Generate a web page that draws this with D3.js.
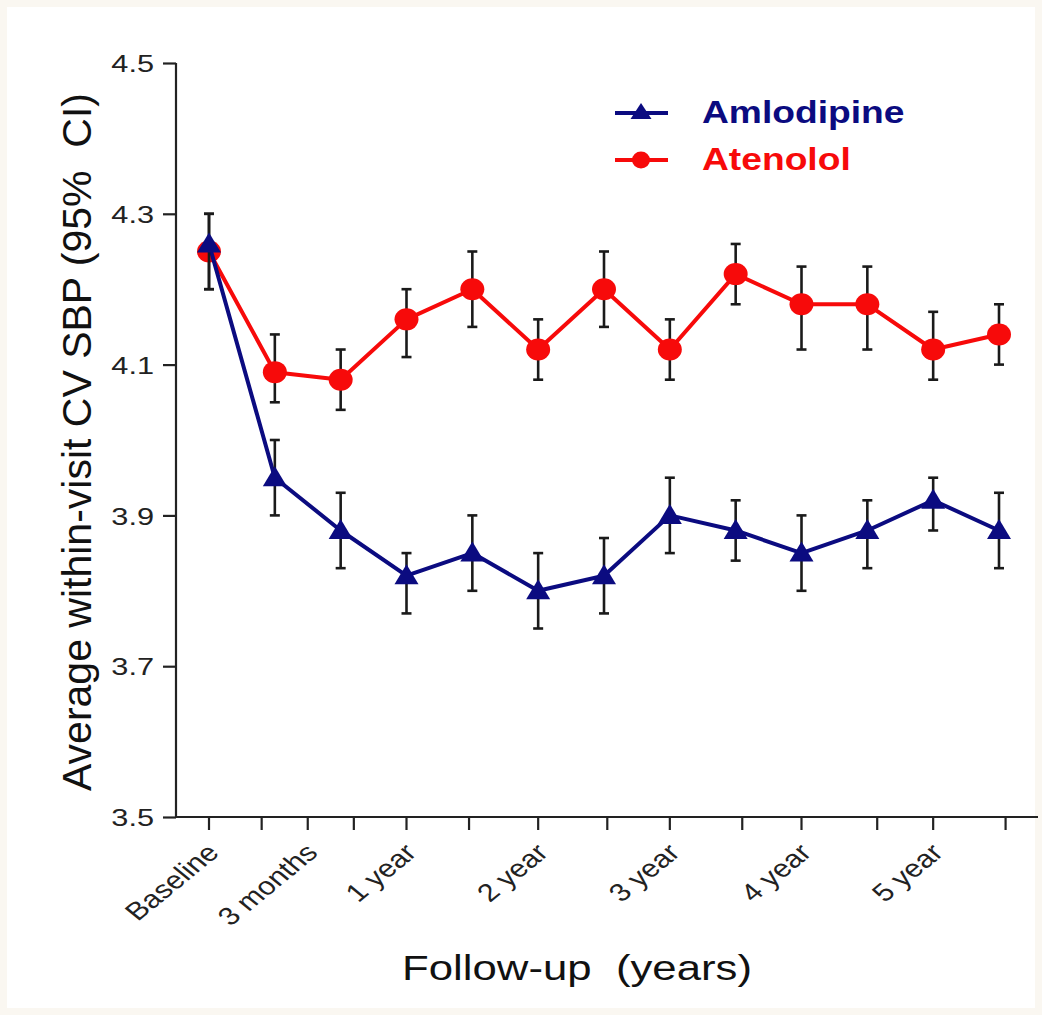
<!DOCTYPE html>
<html>
<head>
<meta charset="utf-8">
<script src="https://cdn.jsdelivr.net/npm/d3@7"></script>
<style>
  html, body { margin: 0; padding: 0; background: #ffffff; }
  svg { display: block; }
  text { font-family: Arial, "Liberation Sans", sans-serif; white-space: pre; }
</style>
</head>
<body>
<script>
// Follow-up visits (index positions along the x axis)
const visits = [0, 1, 2, 3, 4, 5, 6, 7, 8, 9, 10, 11, 12];

// Atenolol: mean and 95% CI
const atenolol     = [4.25, 4.09, 4.08, 4.16, 4.20, 4.12, 4.20, 4.12, 4.22, 4.18, 4.18, 4.12, 4.14];
const atenololLow  = [4.20, 4.05, 4.04, 4.11, 4.15, 4.08, 4.15, 4.08, 4.18, 4.12, 4.12, 4.08, 4.10];
const atenololHigh = [4.30, 4.14, 4.12, 4.20, 4.25, 4.16, 4.25, 4.16, 4.26, 4.23, 4.23, 4.17, 4.18];

// Amlodipine: mean and 95% CI
const amlodipine     = [4.26, 3.95, 3.88, 3.82, 3.85, 3.80, 3.82, 3.90, 3.88, 3.85, 3.88, 3.92, 3.88];
const amlodipineLow  = [4.20, 3.90, 3.83, 3.77, 3.80, 3.75, 3.77, 3.85, 3.84, 3.80, 3.83, 3.88, 3.83];
const amlodipineHigh = [4.30, 4.00, 3.93, 3.85, 3.90, 3.85, 3.87, 3.95, 3.92, 3.90, 3.92, 3.95, 3.93];

// Axis ticks
const yTicks = [3.5, 3.7, 3.9, 4.1, 4.3, 4.5];
const xTickMarks = [0, 0.8, 1.5, 2.2, 3, 3.95, 5, 6.05, 7, 8.1, 9, 10.15, 11, 12.1];
const xTickLabelPos = [0, 1.5, 3, 5, 7, 9, 11];
const xTickLabels = ["Baseline", "3 months", "1 year", "2 year", "3 year", "4 year", "5 year"];

const W = 1042, H = 1015;
const RED = "#f70a0a", NAVY = "#0b0b80";
const TEXT_STRETCH = 1.22;

const svg = d3.select("body").append("svg").attr("width", W).attr("height", H);

// faint cream frame round the white plot card
svg.append("rect").attr("width", W).attr("height", H).attr("fill", "#faf7f1");
svg.append("rect").attr("x", 7).attr("y", 7).attr("width", W - 14).attr("height", H - 14)
  .attr("fill", "#ffffff");

const x = d3.scaleLinear().domain([0, 12]).range([209, 999]);
const y = d3.scaleLinear().domain([3.5, 4.5]).range([817, 63]);
const x0 = 176, xEnd = 1038;

// y axis
const gy = svg.append("g").attr("transform", `translate(${x0},0)`)
  .call(d3.axisLeft(y).tickValues(yTicks).tickSize(13).tickFormat(() => ""));
gy.select(".domain").attr("d", `M0,${y(4.5)}V${y(3.5)}`).attr("stroke", "#222").attr("stroke-width", 2.2);
gy.selectAll(".tick line").attr("stroke", "#222").attr("stroke-width", 2.2);
gy.selectAll(".tick").append("text")
  .attr("transform", `translate(-22,0) scale(1.28,1)`)
  .attr("text-anchor", "end").attr("dy", "0.36em")
  .attr("fill", "#222").attr("font-size", 24)
  .text(d => d3.format(".1f")(d));

// x axis
const gx = svg.append("g").attr("transform", `translate(0,${y(3.5)})`);
gx.append("path").attr("d", `M${x0},0H${xEnd}`).attr("stroke", "#222").attr("stroke-width", 2.2);
gx.selectAll("line.tick").data(xTickMarks).join("line")
  .attr("x1", d => x(d)).attr("x2", d => x(d)).attr("y1", 0).attr("y2", 13)
  .attr("stroke", "#222").attr("stroke-width", 2.2);
gx.selectAll("text.lab").data(xTickLabelPos).join("text")
  .attr("class", "lab")
  .attr("transform", d => `translate(${x(d) + 4},${31}) scale(${TEXT_STRETCH},1) rotate(-45)`)
  .attr("text-anchor", "end").attr("dy", "0.35em")
  .attr("fill", "#222").attr("font-size", 25)
  .text((d, i) => xTickLabels[i]);

// axis titles
svg.append("text")
  .attr("transform", `translate(91,442) rotate(-90)`)
  .attr("text-anchor", "middle").attr("font-size", 41).attr("fill", "#111")
  .text("Average within-visit CV SBP (95%  CI)");
svg.append("text")
  .attr("transform", `translate(577,980) scale(1.25,1)`)
  .attr("text-anchor", "middle").attr("font-size", 35).attr("fill", "#111")
  .text("Follow-up  (years)");

const line = d3.line().x((d, i) => x(visits[i])).y(d => y(d));
const tri = "M0,-11.5L12,8.5L-12,8.5Z";

function drawSeries(vals, lo, hi, color, marker) {
  const g = svg.append("g");
  g.append("path").datum(vals).attr("d", line)
    .attr("fill", "none").attr("stroke", color).attr("stroke-width", 4).attr("stroke-linejoin", "round");
  const eb = g.append("g").attr("stroke", "#1a1a1a").attr("stroke-width", 2.6);
  eb.selectAll("line.v").data(visits).join("line")
    .attr("x1", d => x(d)).attr("x2", d => x(d))
    .attr("y1", (d, i) => y(lo[i])).attr("y2", (d, i) => y(hi[i]));
  eb.selectAll("line.lo").data(visits).join("line")
    .attr("x1", d => x(d) - 5).attr("x2", d => x(d) + 5)
    .attr("y1", (d, i) => y(lo[i])).attr("y2", (d, i) => y(lo[i]));
  eb.selectAll("line.hi").data(visits).join("line")
    .attr("x1", d => x(d) - 5).attr("x2", d => x(d) + 5)
    .attr("y1", (d, i) => y(hi[i])).attr("y2", (d, i) => y(hi[i]));
  if (marker === "circle") {
    g.selectAll("ellipse").data(visits).join("ellipse")
      .attr("cx", d => x(d)).attr("cy", (d, i) => y(vals[i]))
      .attr("rx", 12).attr("ry", 11).attr("fill", color);
  } else {
    g.selectAll("path.m").data(visits).join("path")
      .attr("transform", (d, i) => `translate(${x(d)},${y(vals[i])})`)
      .attr("d", tri).attr("fill", color);
  }
}

drawSeries(atenolol, atenololLow, atenololHigh, RED, "circle");
drawSeries(amlodipine, amlodipineLow, amlodipineHigh, NAVY, "triangle");

// legend
const legend = svg.append("g");
const items = [
  { name: "Amlodipine", color: NAVY, marker: "triangle", yy: 113 },
  { name: "Atenolol", color: RED, marker: "circle", yy: 160 }
];
items.forEach(it => {
  legend.append("line").attr("x1", 615).attr("x2", 668).attr("y1", it.yy).attr("y2", it.yy)
    .attr("stroke", it.color).attr("stroke-width", 4);
  if (it.marker === "circle") {
    legend.append("ellipse").attr("cx", 641).attr("cy", it.yy).attr("rx", 9).attr("ry", 8.5).attr("fill", it.color);
  } else {
    legend.append("path").attr("transform", `translate(641,${it.yy})`)
      .attr("d", "M0,-10L10.5,6L-10.5,6Z").attr("fill", it.color);
  }
  legend.append("text")
    .attr("transform", `translate(702,${it.yy + 10}) scale(1.2,1)`)
    .attr("font-size", 31).attr("font-weight", "bold").attr("fill", it.color)
    .text(it.name);
});
</script>
</body>
</html>
